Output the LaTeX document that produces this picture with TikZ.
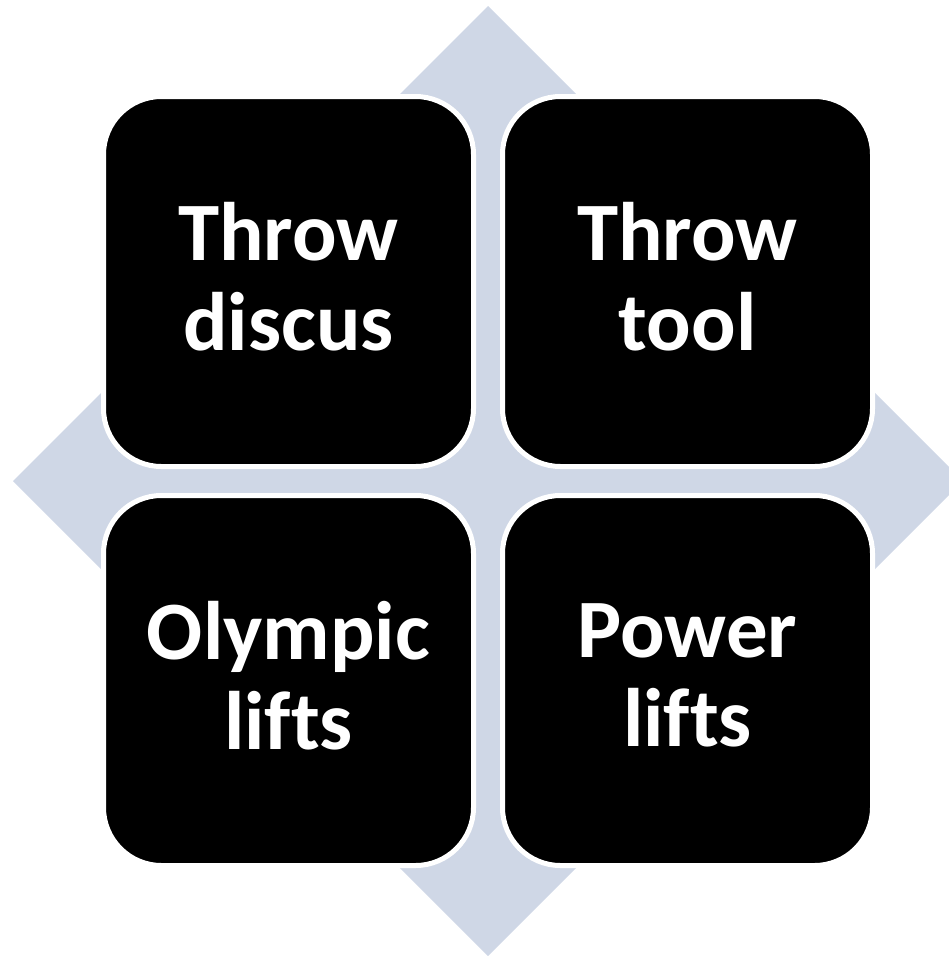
\documentclass[tikz,border=0pt]{standalone}
\usepackage{fontspec}
\setmainfont{Carlito}[Ligatures={NoCommon}]
\definecolor{diamondblue}{RGB}{207,215,230}
\tikzset{
  tile/.style={draw=white, line width=5pt, fill=black, rounded corners=58pt,
    minimum width=370pt, minimum height=370pt, inner sep=0pt},
  lbl/.style={text=white, align=center, inner sep=0pt,
    font=\fontsize{83}{89.5}\selectfont\bfseries}
}
\begin{document}
\begin{tikzpicture}[x=1pt,y=-1pt]
\useasboundingbox (0,0) rectangle (949,956);
\fill[diamondblue] (488,6) -- (963,481) -- (488,956) -- (13,481) -- cycle;
\node[tile] (b1) at (288.5,281.5) {};
\node[tile] (b2) at (687.5,281.5) {};
\node[tile] (b3) at (288.5,680.5) {};
\node[tile] (b4) at (687.5,680.5) {};
\node[lbl] (t1) at ([yshift=5pt]b1.center) {Throw\\discus};
\node[lbl] (t2) at ([yshift=5pt]b2.center) {Throw\\tool};
\node[lbl] (t3) at ([yshift=5pt]b3.center) {Olympic\\lifts};
\node[lbl] (t4) at ([yshift=5pt]b4.center) {Power\\lifts};
\end{tikzpicture}
\end{document}
